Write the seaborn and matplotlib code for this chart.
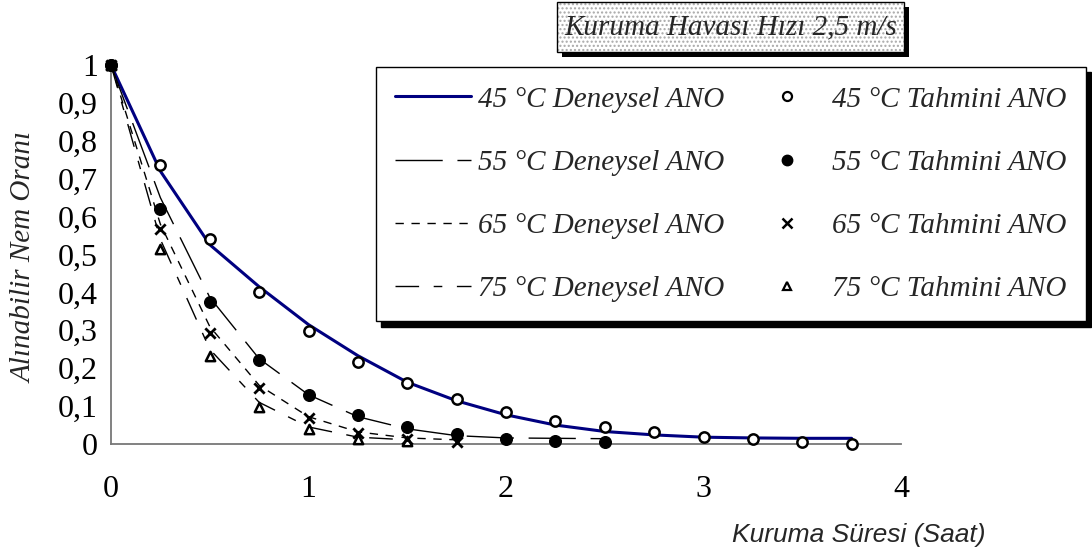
import matplotlib
matplotlib.use("Agg")
import matplotlib.pyplot as plt
from matplotlib.lines import Line2D
from matplotlib.patches import Rectangle
from matplotlib.font_manager import FontProperties
import seaborn as sns
import pandas as pd

# ---------------- data ----------------
time = [0, 0.25, 0.5, 0.75, 1.0, 1.25, 1.5, 1.75, 2.0, 2.25, 2.5, 2.75, 3.0, 3.25, 3.5, 3.75]

exp45 = [1, 0.72, 0.526, 0.415, 0.315, 0.233, 0.163, 0.114, 0.077, 0.050, 0.033, 0.024, 0.018, 0.016, 0.015, 0.015]
exp55 = [1, 0.65, 0.387, 0.225, 0.130, 0.072, 0.040, 0.022, 0.016, 0.015, 0.014]
exp65 = [1, 0.58, 0.310, 0.155, 0.072, 0.032, 0.016, 0.011]
exp75 = [1, 0.54, 0.250, 0.110, 0.045, 0.018, 0.011]

pred45 = [1, 0.735, 0.542, 0.400, 0.297, 0.217, 0.162, 0.118, 0.085, 0.061, 0.044, 0.031, 0.019, 0.012, 0.006, 0.0]
pred55 = [1, 0.621, 0.374, 0.221, 0.130, 0.076, 0.044, 0.027, 0.014, 0.007, 0.004]
pred65 = [1, 0.568, 0.294, 0.147, 0.068, 0.029, 0.013, 0.004]
pred75 = [1, 0.515, 0.232, 0.098, 0.039, 0.014, 0.009]

exp_labels = ["45 °C Deneysel ANO", "55 °C Deneysel ANO", "65 °C Deneysel ANO", "75 °C Deneysel ANO"]
pred_labels = ["45 °C Tahmini ANO", "55 °C Tahmini ANO", "65 °C Tahmini ANO", "75 °C Tahmini ANO"]

x_ticks = [0, 1, 2, 3, 4]
y_ticks = [0, 0.1, 0.2, 0.3, 0.4, 0.5, 0.6, 0.7, 0.8, 0.9, 1]
y_ticklabels = ["0", "0,1", "0,2", "0,3", "0,4", "0,5", "0,6", "0,7", "0,8", "0,9", "1"]

title_text = "Kuruma Havası Hızı 2,5 m/s"
x_label = "Kuruma Süresi (Saat)"
y_label = "Alınabilir Nem Oranı"

# ---------------- style ----------------
sns.set_style("white")
plt.rcParams["font.family"] = ["Liberation Serif", "DejaVu Serif"]
plt.rcParams["lines.scale_dashes"] = False
plt.rcParams["hatch.linewidth"] = 1.0

W, H = 1092, 558
fig = plt.figure(figsize=(W / 100, H / 100), dpi=100)
fig.patch.set_facecolor("white")

def fx(px):
    return px / W

def fy(py):
    return 1 - py / H

ax_left, ax_right, ax_top, ax_bot = 111, 901, 65, 444
ax = fig.add_axes([fx(ax_left), fy(ax_bot), fx(ax_right - ax_left), (ax_bot - ax_top) / H])
ax.set_facecolor("white")

line_styles = [
    dict(color="#000080", lw=2.2, dashes=None),
    dict(color="black", lw=1.0, dashes=(34, 10.6)),
    dict(color="black", lw=1.0, dashes=(6, 5.5)),
    dict(color="black", lw=1.0, dashes=(17, 10.5, 6.2, 10.5)),
]
exp_series = [exp45, exp55, exp65, exp75]
pred_series = [pred45, pred55, pred65, pred75]

marker_styles = [
    dict(marker="o", s=55, facecolor="white", edgecolor="black", linewidth=1.8),
    dict(marker="o", s=70, facecolor="black", edgecolor="black", linewidth=1.0),
    dict(marker="x", s=55, color="black", linewidth=2.0),
    dict(marker="^", s=45, facecolor="white", edgecolor="black", linewidth=1.8),
]

# experimental lines
for vals, st in zip(exp_series, line_styles):
    df = pd.DataFrame({"t": time[:len(vals)], "v": vals})
    sns.lineplot(data=df, x="t", y="v", ax=ax, color=st["color"], linewidth=st["lw"],
                 sort=False, errorbar=None, zorder=2)
    ln = ax.lines[-1]
    if st["dashes"] is not None:
        ln.set_dashes(st["dashes"])
    ln.set_clip_on(False)

# predicted markers (filled ones drawn last, as in the reference)
for i in [0, 3, 2, 1]:
    vals, mst = pred_series[i], marker_styles[i]
    df = pd.DataFrame({"t": time[:len(vals)], "v": vals})
    sns.scatterplot(data=df, x="t", y="v", ax=ax, zorder=3, clip_on=False, legend=False, **mst)

ax.set_xlim(0, 4)
ax.set_ylim(0, 1)
ax.set_xticks(x_ticks)
ax.set_xticklabels([str(v) for v in x_ticks])
ax.set_yticks(y_ticks)
ax.set_yticklabels(y_ticklabels)

for s in ["top", "right"]:
    ax.spines[s].set_visible(False)
for s in ["left", "bottom"]:
    ax.spines[s].set_color("#777777")
    ax.spines[s].set_linewidth(1.3)

ax.tick_params(axis="both", which="major", direction="out", length=6.5, width=1.1,
               color="#555555", labelsize=23, labelcolor="black")
ax.tick_params(axis="y", pad=3)
ax.tick_params(axis="x", pad=16)

ax.set_xlabel(x_label, fontsize=19, style="italic", family=["Liberation Sans", "DejaVu Sans"])
ax.xaxis.set_label_coords((859 - ax_left) / (ax_right - ax_left), -(535 - ax_bot) / (ax_bot - ax_top))
ax.set_ylabel(y_label, fontsize=21, style="italic")
ax.yaxis.set_label_coords((25 - ax_left) / (ax_right - ax_left), (ax_bot - 257) / (ax_bot - ax_top))
ax.xaxis.label.set_va("center")
ax.yaxis.label.set_va("center")

# ---------------- legend ----------------
handles = []
for st in line_styles:
    h = Line2D([], [], color=st["color"], lw=st["lw"])
    if st["dashes"] is not None:
        h.set_dashes(st["dashes"])
    handles.append(h)
legend_marker = [
    dict(marker="o", markersize=6.5, markerfacecolor="white", markeredgecolor="black", markeredgewidth=1.6),
    dict(marker="o", markersize=7.5, markerfacecolor="black", markeredgecolor="black", markeredgewidth=1.0),
    dict(marker="x", markersize=6.5, markeredgecolor="black", markeredgewidth=1.8),
    dict(marker="^", markersize=6.0, markerfacecolor="white", markeredgecolor="black", markeredgewidth=1.6),
]
for lm in legend_marker:
    handles.append(Line2D([], [], linestyle="none", **lm))
labels = exp_labels + pred_labels

prop = FontProperties(family="Liberation Serif", style="italic", size=21)
leg = fig.legend(handles, labels, loc="upper left",
                 bbox_to_anchor=(fx(376), fy(67)), bbox_transform=fig.transFigure,
                 ncol=2, prop=prop, frameon=True, fancybox=False,
                 edgecolor="black", facecolor="white", framealpha=1,
                 handlelength=2.6, handletextpad=0.24, columnspacing=0.86,
                 borderpad=0.66, labelspacing=1.26, borderaxespad=0,
                 shadow={"ox": 3.8, "oy": -3.8, "color": "black", "alpha": 1})
leg.get_frame().set_linewidth(1.0)

# ---------------- title box ----------------
tb_l, tb_r, tb_t, tb_b = 557, 904, 2, 52
sh = 5
fig.patches.append(Rectangle((fx(tb_l + sh), fy(tb_b + sh)), fx(tb_r - tb_l), (tb_b - tb_t) / H,
                             transform=fig.transFigure, facecolor="black", edgecolor="none", zorder=5))
fig.patches.append(Rectangle((fx(tb_l), fy(tb_b)), fx(tb_r - tb_l), (tb_b - tb_t) / H,
                             transform=fig.transFigure, facecolor="white", edgecolor="#a8a8a8",
                             hatch="....", linewidth=0, zorder=6))
fig.patches.append(Rectangle((fx(tb_l), fy(tb_b)), fx(tb_r - tb_l), (tb_b - tb_t) / H,
                             transform=fig.transFigure, fill=False, edgecolor="black",
                             linewidth=1.0, zorder=7))
fig.text(fx((tb_l + tb_r) / 2), fy((tb_t + tb_b) / 2), title_text, ha="center", va="center",
         fontsize=21, style="italic", zorder=8)

fig.savefig("out.png", dpi=100, facecolor="white")
